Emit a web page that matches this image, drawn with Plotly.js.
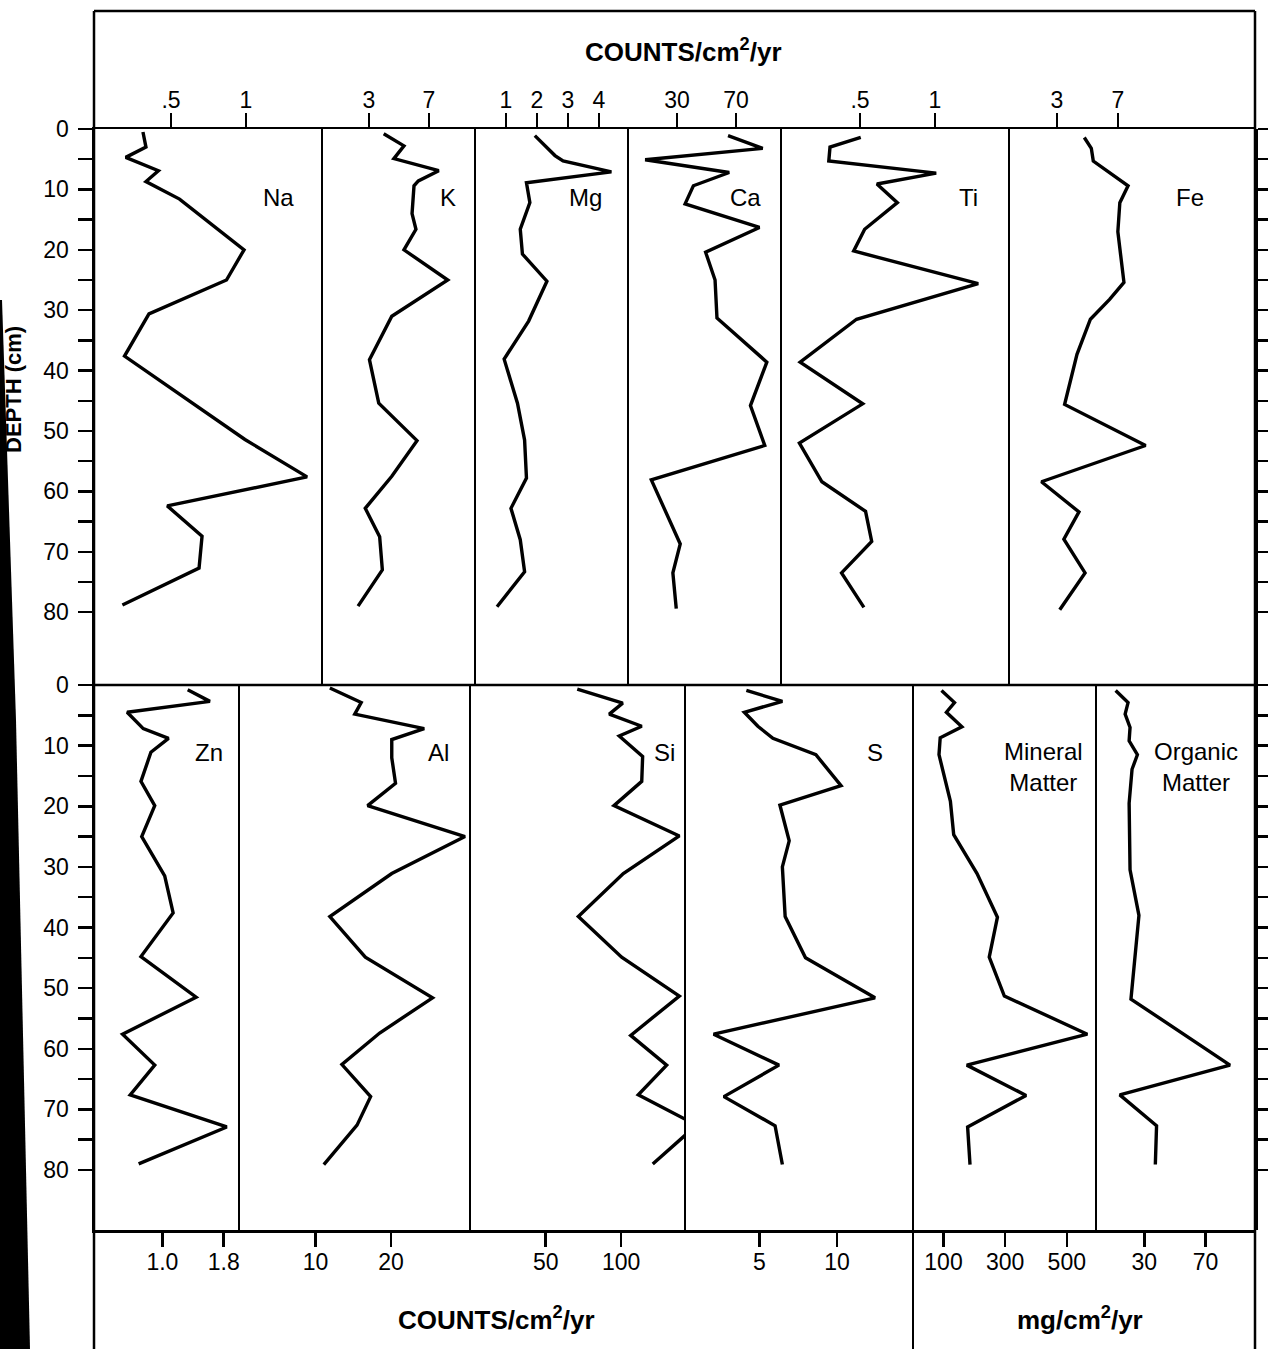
<!DOCTYPE html>
<html><head><meta charset="utf-8">
<script src="https://cdn.plot.ly/plotly-3.0.1.min.js"></script>
<style>html,body{margin:0;padding:0;background:#fff}#chart{width:1268px;height:1349px}</style>
</head><body><div id="chart"></div>
<script>
// ---------------- DATA ----------------
// Top row: Na, K, Mg, Ca, Ti, Fe  (COUNTS/cm2/yr) vs depth (cm)
const naDepth = [0.5, 3, 4.7, 6.9, 8.7, 11.6, 20, 25, 30.6, 37.6, 51.4, 57.6, 62.4, 67.4, 72.7, 78.8];
const naVal   = [0.313, 0.333, 0.198, 0.416, 0.333, 0.557, 0.987, 0.87, 0.353, 0.19, 0.993, 1.407, 0.475, 0.707, 0.687, 0.176];
const naTicks = [0.5, 1];            const naTickText = ['.5', '1'];

const kDepth = [0.8, 2.8, 4.9, 6.9, 8.6, 9.4, 14, 16.6, 20, 25, 31, 38.2, 45.4, 51.6, 57.5, 62.8, 67.5, 73, 79];
const kVal   = [3.98, 5.33, 4.66, 7.65, 6.29, 6.0, 5.87, 6.13, 5.33, 8.25, 4.52, 3.03, 3.65, 6.2, 4.52, 2.75, 3.71, 3.89, 2.27];
const kTicks = [3, 7];               const kTickText = ['3', '7'];

const mgDepth = [1.1, 4.4, 5.3, 7.1, 8.9, 12.2, 16.6, 20.7, 25.2, 31.8, 38.1, 45.4, 51.5, 57.8, 62.8, 68, 73.3, 79.1];
const mgVal   = [1.93, 2.58, 2.84, 4.40, 1.66, 1.77, 1.46, 1.53, 2.32, 1.73, 0.94, 1.37, 1.60, 1.66, 1.16, 1.46, 1.60, 0.71];
const mgTicks = [1, 2, 3, 4];        const mgTickText = ['1', '2', '3', '4'];

const caDepth = [1.1, 3.2, 5.1, 7.2, 9.4, 12.4, 16.3, 20.4, 25, 31.3, 38.6, 45.8, 52.4, 58.1, 68.7, 73.5, 79.4];
const caVal   = [64.6, 88.1, 8.4, 65.4, 41.1, 35.5, 85.9, 49.4, 55.8, 57.1, 90.9, 79.8, 89.5, 12.6, 32.2, 27.2, 29.5];
const caTicks = [30, 70];            const caTickText = ['30', '70'];

const tiDepth = [1.4, 3, 5.3, 7.3, 9.1, 12.2, 16.6, 20.2, 25.6, 31.5, 38.6, 45.5, 52, 58.4, 63.3, 68.3, 73.5, 79.2];
const tiVal   = [0.505, 0.30, 0.292, 1.008, 0.613, 0.749, 0.531, 0.458, 1.288, 0.477, 0.101, 0.518, 0.096, 0.246, 0.537, 0.578, 0.377, 0.526];
const tiTicks = [0.5, 1];            const tiTickText = ['.5', '1'];

const feDepth = [1.4, 3.2, 5.3, 9.4, 12.2, 17, 25.4, 28.2, 31.5, 37.3, 45.6, 52.4, 58.4, 63.4, 67.9, 73.5, 79.6];
const feVal   = [4.79, 5.25, 5.38, 7.66, 7.12, 6.99, 7.39, 6.45, 5.19, 4.31, 3.50, 8.81, 1.98, 4.44, 3.45, 4.84, 3.18];
const feTicks = [3, 7];              const feTickText = ['3', '7'];

// Bottom row: Zn, Al, Si, S (COUNTS/cm2/yr); Mineral, Organic matter (mg/cm2/yr)
const znDepth = [0.8, 2.7, 4.5, 7.2, 8.8, 11.1, 15.9, 19.9, 25, 31.5, 37.6, 44.8, 51.5, 57.6, 62.7, 67.6, 72.9, 79];
const znVal   = [1.33, 1.62, 0.54, 0.75, 1.08, 0.85, 0.72, 0.90, 0.73, 1.03, 1.14, 0.72, 1.44, 0.48, 0.90, 0.58, 1.84, 0.69];
const znTicks = [1.0, 1.8];          const znTickText = ['1.0', '1.8'];

const alDepth = [0.5, 2.9, 4.8, 7.2, 9, 12, 16.2, 19.9, 25, 31.1, 38.2, 44.9, 51.6, 57.4, 62.6, 67.9, 72.6, 79.1];
const alVal   = [11.9, 16.05, 15.2, 24.4, 20.1, 20.1, 20.6, 16.9, 29.8, 20.1, 11.9, 16.6, 25.5, 18.5, 13.5, 17.3, 15.5, 11.1];
const alTicks = [10, 20];            const alTickText = ['10', '20'];

const siDepth = [0.7, 3, 4.8, 6.8, 8.4, 11.8, 15.9, 19.9, 24.9, 31.1, 38.2, 44.9, 51.3, 57.8, 62.7, 67.6, 72.6, 79];
const siVal   = [70.9, 101.0, 92.1, 113.6, 98.7, 114.2, 113.6, 95.2, 138.5, 101.4, 71.6, 100.3, 138.5, 106.3, 130.1, 111.3, 149.9, 120.9];
const siTicks = [50, 100];           const siTickText = ['50', '100'];

const sDepth = [0.9, 2.7, 4.5, 6.8, 8.8, 11.5, 16.6, 19.8, 25.7, 30, 38.2, 45, 51.6, 57.6, 62.7, 67.9, 72.7, 79.1];
const sVal   = [4.16, 6.48, 4.03, 4.90, 5.87, 8.64, 10.26, 6.32, 6.92, 6.48, 6.66, 7.97, 12.45, 2.05, 6.26, 2.71, 6.01, 6.48];
const sTicks = [5, 10];              const sTickText = ['5', '10'];

const minDepth = [0.9, 2.9, 4.5, 6.9, 8.7, 11.5, 19.2, 24.7, 31.1, 38.3, 44.9, 51.3, 57.6, 62.7, 67.7, 72.9, 79.1];
const minVal   = [93.5, 135.7, 109.4, 159.7, 89.3, 85.4, 122.4, 133.1, 208.8, 275, 248.4, 297.4, 566.6, 175.6, 367.9, 178.2, 186];
const minTicks = [100, 300, 500];    const minTickText = ['100', '300', '500'];

const orgDepth = [0.9, 2.9, 4.8, 7, 9.2, 11.5, 13.9, 19.5, 30.5, 38, 51.8, 62.7, 67.6, 72.7, 79.1];
const orgVal   = [11.3, 19.4, 17.5, 20.7, 20.1, 25.5, 22.0, 20.1, 20.7, 26.5, 21.3, 85.9, 14.0, 38.0, 37.2];
const orgTicks = [30, 70];           const orgTickText = ['30', '70'];

const depthTicks = [0, 10, 20, 30, 40, 50, 60, 70, 80];
const depthMinorTicks = [5, 15, 25, 35, 45, 55, 65, 75];

// ---------------- LAYOUT ----------------
const W = 1268, H = 1349;
const px = x => x / W, py = y => 1 - y / H;
const FONT = "'Liberation Sans', Arial, Helvetica, sans-serif";
function rangeFor(l, r, p1, v1, p2, v2) { const k = (p2 - p1) / (v2 - v1); return [v1 - (p1 - l) / k, v1 + (r - p1) / k]; }

// row geometry (pixels)
const TOP0 = 129, TOPB = 685, TOPSCALE = 6.04;
const BOT0 = 685, BOTB = 1230, BOTSCALE = 6.0625;

const panels = [
  {row:0, lab:'Na', edges:[94,322],  cal:[171,0.5,246,1],    t:naTicks, tt:naTickText, d:naDepth, v:naVal, lx:278, ly:197},
  {row:0, lab:'K',  edges:[322,475], cal:[369,3,429,7],      t:kTicks,  tt:kTickText,  d:kDepth,  v:kVal,  lx:448, ly:197},
  {row:0, lab:'Mg', edges:[475,628], cal:[506,1,599,4],      t:mgTicks, tt:mgTickText, d:mgDepth, v:mgVal, lx:585, ly:197},
  {row:0, lab:'Ca', edges:[628,781], cal:[677,30,736,70],    t:caTicks, tt:caTickText, d:caDepth, v:caVal, lx:745, ly:197},
  {row:0, lab:'Ti', edges:[781,1009],cal:[860,0.5,935,1],    t:tiTicks, tt:tiTickText, d:tiDepth, v:tiVal, lx:968, ly:197},
  {row:0, lab:'Fe', edges:[1009,1255],cal:[1057,3,1118,7],   t:feTicks, tt:feTickText, d:feDepth, v:feVal, lx:1190, ly:197},
  {row:1, lab:'Zn', edges:[94,239],  cal:[162.4,1.0,223.7,1.8], t:znTicks, tt:znTickText, d:znDepth, v:znVal, lx:209, ly:752},
  {row:1, lab:'Al', edges:[239,470], cal:[315.5,10,391,20],  t:alTicks, tt:alTickText, d:alDepth, v:alVal, lx:438, ly:752},
  {row:1, lab:'Si', edges:[470,685], cal:[545.7,50,621.2,100], t:siTicks, tt:siTickText, d:siDepth, v:siVal, lx:664, ly:752},
  {row:1, lab:'S',  edges:[685,913], cal:[759.4,5,837,10],   t:sTicks,  tt:sTickText,  d:sDepth,  v:sVal,  lx:875, ly:752},
  {row:1, lab:'Mineral<br>Matter', edges:[913,1096], cal:[943.5,100,1066.8,500], t:minTicks, tt:minTickText, d:minDepth, v:minVal, lx:1043, ly:767},
  {row:1, lab:'Organic<br>Matter', edges:[1096,1255], cal:[1144.3,30,1205.6,70], t:orgTicks, tt:orgTickText, d:orgDepth, v:orgVal, lx:1196, ly:767}
];

const layout = {
  width: W, height: H,
  margin: {l:0, r:0, t:0, b:0},
  paper_bgcolor: '#fff', plot_bgcolor: 'rgba(0,0,0,0)',
  showlegend: false,
  font: {family: FONT, color: '#000', size: 23},
  annotations: [], shapes: []
};
const traces = [];
const axStyle = {ticks:'outside', ticklen:14, tickwidth:2.5, tickcolor:'#000', showline:true, linewidth:2.5, linecolor:'#000',
                 showgrid:false, zeroline:false, tickfont:{family:FONT, size:23, color:'#000'}, fixedrange:true};

panels.forEach((p, i) => {
  const n = i + 1;
  const xname = n === 1 ? 'xaxis' : 'xaxis' + n;
  const xid = n === 1 ? 'x' : 'x' + n;
  const yid = p.row === 0 ? 'y' : 'y2';
  layout[xname] = Object.assign({}, axStyle, {
    domain: [px(p.edges[0]), px(p.edges[1])],
    range: rangeFor(p.edges[0], p.edges[1], p.cal[0], p.cal[1], p.cal[2], p.cal[3]),
    anchor: yid, side: p.row === 0 ? 'top' : 'bottom',
    tickmode: 'array', tickvals: p.t, ticktext: p.tt, ticklabelstandoff: p.row === 0 ? -5 : -4
  });
  traces.push({type:'scatter', mode:'lines', x:p.v, y:p.d, xaxis:xid, yaxis:yid,
    line:{color:'#000', width:3.4}, hoverinfo:'skip', cliponaxis:true});
  layout.annotations.push({xref:'paper', yref:'paper', x:px(p.lx), y:py(p.ly), text:p.lab, showarrow:false,
    font:{family:FONT, size:24, color:'#000'}, xanchor:'center', yanchor:'middle', align:'center'});
});

// full-width dummy x axes so the depth axes can mirror their ticks on the right frame
layout.xaxis13 = {domain:[px(94), px(1255)], range:[0,1], anchor:'y', visible:false, fixedrange:true};
layout.xaxis14 = {domain:[px(94), px(1255)], range:[0,1], anchor:'y2', visible:false, fixedrange:true};
traces.push({type:'scatter', mode:'lines', x:[null], y:[null], xaxis:'x13', yaxis:'y', hoverinfo:'skip'});
traces.push({type:'scatter', mode:'lines', x:[null], y:[null], xaxis:'x14', yaxis:'y2', hoverinfo:'skip'});

const minorTicks = {tickmode:'array', tickvals:depthMinorTicks, ticks:'outside', ticklen:14, tickwidth:2.5, tickcolor:'#000', showgrid:false};
layout.yaxis = Object.assign({}, axStyle, {
  domain:[py(TOPB), py(TOP0)], range:[(TOPB - TOP0) / TOPSCALE, 0], anchor:'x13',
  tickmode:'array', tickvals:depthTicks, mirror:'ticks', ticklabelstandoff: 4, minor: minorTicks
});
layout.yaxis2 = Object.assign({}, axStyle, {
  domain:[py(BOTB), py(BOT0)], range:[(BOTB - BOT0) / BOTSCALE, 0], anchor:'x14',
  tickmode:'array', tickvals:depthTicks, mirror:'ticks', ticklabelstandoff: 4, minor: minorTicks
});

// frame and panel dividers
function seg(x0, y0, x1, y1, w) {
  layout.shapes.push({type:'line', xref:'paper', yref:'paper', x0:px(x0), y0:py(y0), x1:px(x1), y1:py(y1),
    line:{color:'#000', width:w}});
}
seg(94, 11, 1255, 11, 2.5);      // top border
seg(94, 11, 94, 1349, 2.5);      // left border
seg(1255, 11, 1255, 1349, 2.5);  // right border
seg(94, 685, 1255, 685, 2.5);    // row separator
[322, 475, 628, 781, 1009].forEach(x => seg(x, TOP0, x, TOPB, 2));
[239, 470, 685, 913, 1096].forEach(x => seg(x, BOT0, x, BOTB, 2));
seg(913, BOTB, 913, 1349, 2);    // separates the unit labels

// scan shadow along the left edge
layout.shapes.push({type:'path', xref:'paper', yref:'paper',
  path:`M ${px(0)},${py(300)} L ${px(2)},${py(300)} L ${px(16)},${py(720)} L ${px(30)},${py(1349)} L ${px(0)},${py(1349)} Z`,
  fillcolor:'#000', line:{width:0}, layer:'below'});

// titles
const ann = (x, y, text, size, angle) => layout.annotations.push({xref:'paper', yref:'paper', x:px(x), y:py(y), text,
  showarrow:false, textangle:angle || 0, xanchor:'center', yanchor:'middle', font:{family:FONT, size, color:'#000'}});
ann(683, 50, '<b>COUNTS/cm<sup>2</sup>/yr</b>', 26);
ann(496, 1318, '<b>COUNTS/cm<sup>2</sup>/yr</b>', 26);
ann(1080, 1318, '<b>mg/cm<sup>2</sup>/yr</b>', 26);
ann(13, 390, '<b>DEPTH (cm)</b>', 22, -90);

Plotly.newPlot('chart', traces, layout, {staticPlot:true, displayModeBar:false});
</script>
</body></html>
